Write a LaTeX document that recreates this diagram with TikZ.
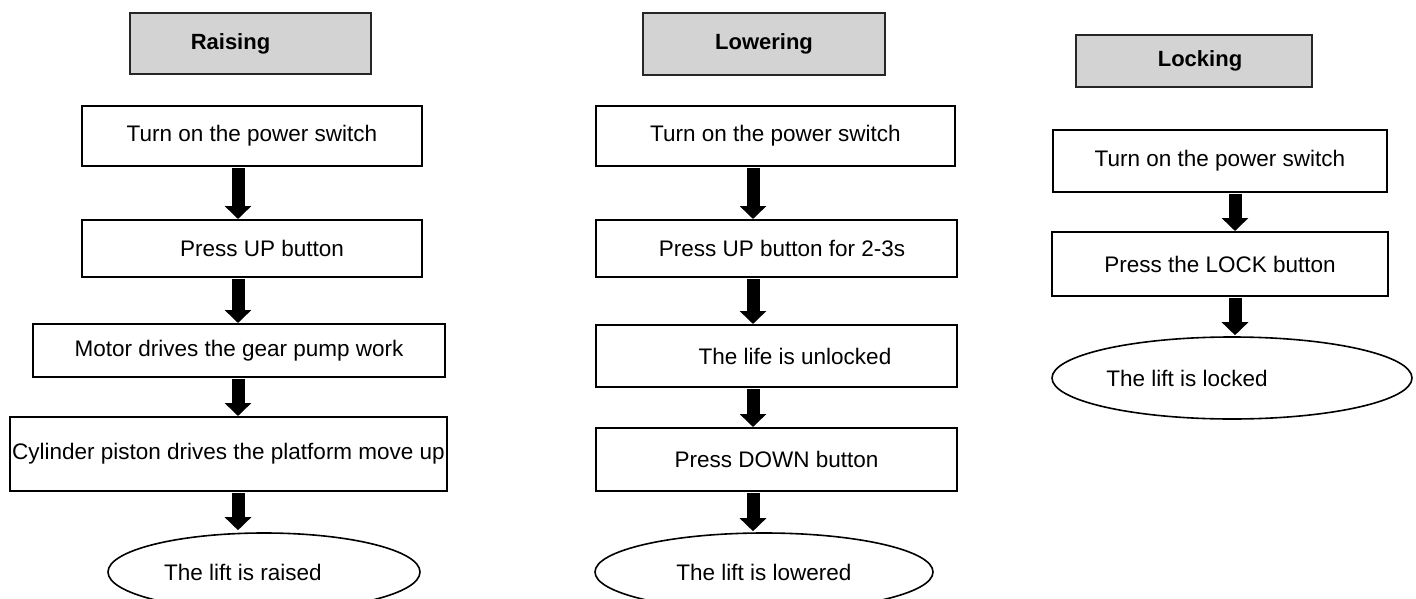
\documentclass[tikz,border=0pt]{standalone}
\usepackage{fontspec}
\setmainfont{Liberation Sans}
\usetikzlibrary{shapes.geometric,arrows.meta}
\definecolor{hdrgray}{HTML}{D3D3D3}
\tikzset{
  hdr/.style={draw=black!85, line width=1.6pt, fill=hdrgray, inner sep=0pt, font=\fontsize{22}{26}\selectfont\bfseries},
  stepbox/.style={draw, line width=2pt, inner sep=0pt, font=\fontsize{22.5}{27}\selectfont},
  endell/.style={ellipse, draw, line width=1.6pt, inner sep=0pt, font=\fontsize{22.5}{27}\selectfont},
  flow/.style={line width=13pt, -{Triangle[width=26pt,length=13pt]}}
}
\begin{document}
\begin{tikzpicture}[x=1pt,y=-1pt]
\useasboundingbox (0,0) rectangle (1416,599);
% Raising
\node[hdr, minimum width=241pt, minimum height=61pt] (rh) at (250.5,43.5) {Raising\hspace*{40pt}};
\node[stepbox, minimum width=340pt, minimum height=60pt] (r1) at (252,136) {Turn on the power switch};
\node[stepbox, minimum width=340pt, minimum height=57pt] (r2) at (252,248.5) {\hspace*{20pt}Press UP button};
\node[stepbox, minimum width=412pt, minimum height=53pt] (r3) at (239,350.5) {Motor drives the gear pump work};
\node[stepbox, minimum width=437pt, minimum height=74pt] (r4) at (228.5,454) {Cylinder piston drives the platform move up};
\node[endell, minimum width=312pt, minimum height=78pt] (r5) at (264,572) {The lift is raised\hspace*{42pt}};
\coordinate (rx) at (238,0);
\draw[flow] ([yshift=-1pt]r1.south -| rx) -- (r2.north -| rx);
\draw[flow] ([yshift=-1pt]r2.south -| rx) -- (r3.north -| rx);
\draw[flow] ([yshift=-1pt]r3.south -| rx) -- (r4.north -| rx);
\draw[flow] ([yshift=-1pt]r4.south -| rx) -- ([yshift=2pt]r5.north -| rx);
% Lowering
\node[hdr, minimum width=242pt, minimum height=62pt] (lh) at (764,44) {Lowering};
\node[stepbox, minimum width=359pt, minimum height=60pt] (l1) at (775.5,136) {Turn on the power switch};
\node[stepbox, minimum width=361pt, minimum height=57pt] (l2) at (776.5,248.5) {\hspace*{11pt}Press UP button for 2-3s};
\node[stepbox, minimum width=361pt, minimum height=62pt] (l3) at (776.5,356) {\hspace*{37pt}The life is unlocked};
\node[stepbox, minimum width=361pt, minimum height=63pt] (l4) at (776.5,459.5) {Press DOWN button};
\node[endell, minimum width=338pt, minimum height=78pt] (l5) at (764,572) {The lift is lowered};
\coordinate (lx) at (753,0);
\draw[flow] ([yshift=-1pt]l1.south -| lx) -- (l2.north -| lx);
\draw[flow] ([yshift=-1pt]l2.south -| lx) -- (l3.north -| lx);
\draw[flow] ([yshift=-1pt]l3.south -| lx) -- (l4.north -| lx);
\draw[flow] ([yshift=-1pt]l4.south -| lx) -- ([yshift=1pt]l5.north -| lx);
% Locking
\node[hdr, minimum width=236pt, minimum height=52pt] (kh) at (1194,61) {\hspace*{12pt}Locking};
\node[stepbox, minimum width=334pt, minimum height=62pt] (k1) at (1220,161) {Turn on the power switch};
\node[stepbox, minimum width=336pt, minimum height=64pt] (k2) at (1220,264) {Press the LOCK button};
\node[endell, minimum width=360pt, minimum height=82pt] (k3) at (1232,378) {The lift is locked\hspace*{90pt}};
\coordinate (kx) at (1235,0);
\draw[flow] ([yshift=-1pt]k1.south -| kx) -- (k2.north -| kx);
\draw[flow] ([yshift=-1pt]k2.south -| kx) -- ([yshift=1pt]k3.north -| kx);
\end{tikzpicture}
\end{document}
